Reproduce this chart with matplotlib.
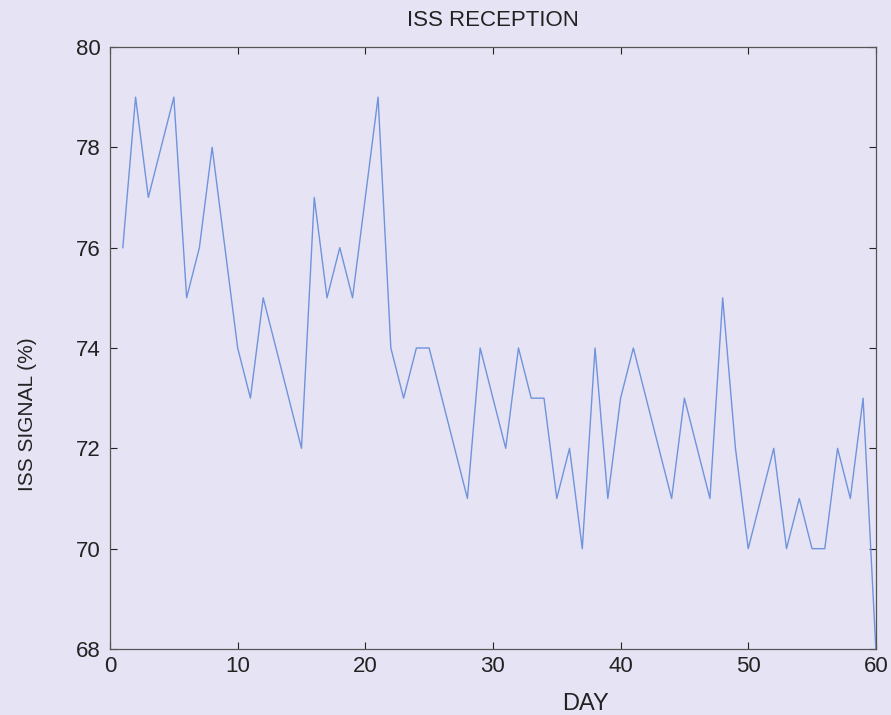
import matplotlib
matplotlib.use("Agg")
import matplotlib.pyplot as plt
from matplotlib import font_manager

days = list(range(1, 61))
signal = [76, 79, 77, 78, 79, 75, 76, 78, 76, 74,
          73, 75, 74, 73, 72, 77, 75, 76, 75, 77,
          79, 74, 73, 74, 74, 73, 72, 71, 74, 73,
          72, 74, 73, 73, 71, 72, 70, 74, 71, 73,
          74, 73, 72, 71, 73, 72, 71, 75, 72, 70,
          71, 72, 70, 71, 70, 70, 72, 71, 73, 68]
xticks = [0, 10, 20, 30, 40, 50, 60]
yticks = [68, 70, 72, 74, 76, 78, 80]

plt.rcParams['font.family'] = ['Liberation Sans', 'DejaVu Sans']
names = {f.name for f in font_manager.fontManager.ttflist}
if 'Liberation Sans Narrow' in names:
    ylab_font, ylab_size = 'Liberation Sans Narrow', 18
else:
    ylab_font, ylab_size = 'Liberation Sans', 15

bg = '#e6e4f4'
fig = plt.figure(figsize=(8.91, 7.15), dpi=100, facecolor=bg)
ax = fig.add_axes([0.1235, 0.0923, 0.8595, 0.8420])
ax.set_facecolor(bg)
ax.plot(days, signal, color='#6f93dc', linewidth=1.0)
ax.set_xlim(0, 60)
ax.set_ylim(68, 80)
ax.set_xticks(xticks)
ax.set_yticks(yticks)
ax.tick_params(direction='in', top=True, right=True, labelsize=16, colors='#222222', length=5)
ax.tick_params(axis='y', pad=7)
ax.tick_params(axis='x', pad=5)
for s in ax.spines.values():
    s.set_color('#555555')
    s.set_linewidth(0.9)
ax.set_title('ISS RECEPTION', fontsize=16, color='#222222', pad=15)
ax.set_xlabel('DAY', fontsize=17, color='#222222')
ax.xaxis.set_label_coords(0.621, -0.073)
ax.set_ylabel('ISS SIGNAL (%)', fontsize=ylab_size, color='#222222',
              family=[ylab_font, 'DejaVu Sans'])
ax.yaxis.set_label_coords(-0.0953, 0.39)
fig.savefig('out.png', dpi=100, facecolor=bg)
